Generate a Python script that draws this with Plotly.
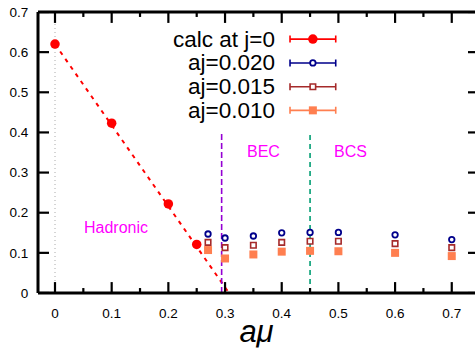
import plotly.graph_objects as go

# ---- data ----
calc_x = [0.0, 0.1, 0.2, 0.25]
calc_y = [0.620, 0.423, 0.222, 0.121]

# linear extrapolation of the j=0 calculation down to zero
fit_x = [0.0, 0.307]
fit_y = [0.620, 0.0]

amu = [0.27, 0.30, 0.35, 0.40, 0.45, 0.50, 0.60, 0.70]
aj020 = [0.147, 0.137, 0.142, 0.150, 0.151, 0.151, 0.145, 0.133]
aj015 = [0.126, 0.113, 0.119, 0.126, 0.129, 0.129, 0.123, 0.113]
aj010 = [0.107, 0.086, 0.096, 0.103, 0.105, 0.104, 0.100, 0.092]

# phase boundaries (x position, upper end of the marker line)
boundary_x = [0.294, 0.45]
boundary_top = 0.4

series_names = ["calc at j=0", "aj=0.020", "aj=0.015", "aj=0.010"]
region_labels = ["Hadronic", "BEC", "BCS"]
region_x = [0.108, 0.367, 0.522]
region_y = [0.164, 0.353, 0.353]

x_ticks = [0, 0.1, 0.2, 0.3, 0.4, 0.5, 0.6, 0.7]
x_minor_ticks = [0.05, 0.15, 0.25, 0.35, 0.45, 0.55, 0.65]
y_ticks = [0, 0.1, 0.2, 0.3, 0.4, 0.5, 0.6, 0.7]
x_range = [-0.03, 0.741]
y_range = [0, 0.7]

# ---- styles ----
FONT = "Liberation Sans, Arial, Helvetica, sans-serif"
RED = "#ff0000"
BLUE = "#00008b"
BROWN = "#a52a2a"
CORAL = "#ff7f50"
VIOLET = "#9400d3"
GREEN = "#009e73"
MAGENTA = "#ff00ff"

W, H = 475, 349
M_L, M_R, M_T, M_B = 38, 0, 12, 54
plot_w = W - M_L - M_R
plot_h = H - M_T - M_B

markers = [
    dict(symbol="circle", size=9.5, color=RED, line=dict(width=0)),
    dict(symbol="circle", size=5.5, color="white", line=dict(width=1.8, color=BLUE)),
    dict(symbol="square", size=5.5, color="white", line=dict(width=1.6, color=BROWN)),
    dict(symbol="square", size=8, color=CORAL, line=dict(width=0)),
]
colors = [RED, BLUE, BROWN, CORAL]

fig = go.Figure()

# dotted guide at a*mu = 0
fig.add_trace(go.Scatter(x=[0, 0], y=[0, 0.7], mode="lines",
                         line=dict(color="#aaaaaa", width=1, dash="1px,3px"),
                         hoverinfo="skip", showlegend=False))

# extrapolation line
fig.add_trace(go.Scatter(x=fit_x, y=fit_y, mode="lines",
                         line=dict(color=RED, width=2, dash="4px,5px"),
                         hoverinfo="skip", showlegend=False))

# BEC / BCS boundaries
for bx, col, dash in zip(boundary_x, [VIOLET, GREEN], ["6px,3px", "5px,4px"]):
    fig.add_trace(go.Scatter(x=[bx, bx], y=[0, boundary_top], mode="lines",
                             line=dict(color=col, width=1.6, dash=dash),
                             hoverinfo="skip", showlegend=False))

# data points
fig.add_trace(go.Scatter(x=calc_x, y=calc_y, mode="markers", marker=markers[0],
                         name=series_names[0], showlegend=False))
for ys, mk, nm in zip([aj020, aj015, aj010], markers[1:], series_names[1:]):
    fig.add_trace(go.Scatter(x=amu, y=ys, mode="markers", marker=mk,
                             name=nm, showlegend=False))

# inward tick marks on all four sides, lengths given in pixels
px_x = (x_range[1] - x_range[0]) / plot_w   # data units per pixel, x
px_y = (y_range[1] - y_range[0]) / plot_h   # data units per pixel, y
tx, ty = [], []
for vals, length in [(x_ticks, 11), (x_minor_ticks, 5)]:
    for v in vals:
        tx += [v, v, None, v, v, None]
        ty += [y_range[0], y_range[0] + length * px_y, None,
               y_range[1], y_range[1] - length * px_y, None]
for v in y_ticks:
    tx += [x_range[0], x_range[0] + 11 * px_x, None,
           x_range[1], x_range[1] - 7 * px_x, None]
    ty += [v, v, None, v, v, None]
fig.add_trace(go.Scatter(x=tx, y=ty, mode="lines", cliponaxis=False,
                         line=dict(color="black", width=2.2),
                         hoverinfo="skip", showlegend=False))

# key: text on the left, error-bar sample on the right (frame in [0,1] units)
key_x = 0.629
key_half = 0.0523
key_rows = [0.9035, 0.8187, 0.734, 0.650]
key_text_x = 0.547
for nm, mk, col, ky in zip(series_names, markers, colors, key_rows):
    fig.add_trace(go.Scatter(
        x=[key_x], y=[ky], xaxis="x3", yaxis="y3", mode="markers",
        marker=mk, showlegend=False, hoverinfo="skip",
        error_x=dict(type="data", array=[key_half], symmetric=True,
                     color=col, thickness=1.6, width=3.5)))
    fig.add_annotation(xref="paper", yref="paper", x=key_text_x, y=ky,
                       xanchor="right", yanchor="middle", text=nm,
                       showarrow=False, font=dict(family=FONT, size=22.5, color="black"))

for txt, tx_, ty_ in zip(region_labels, region_x, region_y):
    fig.add_annotation(x=tx_, y=ty_, text=txt, showarrow=False,
                       xanchor="center", yanchor="middle",
                       font=dict(family=FONT, size=16, color=MAGENTA))

# frame: left, bottom and top borders (right border lies just outside the view)
for x0, y0, x1, y1 in [(0, 0, 0, 1), (0, 0, 1, 0), (0, 1, 1, 1)]:
    fig.add_shape(type="line", xref="paper", yref="paper",
                  x0=x0, y0=y0, x1=x1, y1=y1, layer="above",
                  line=dict(color="black", width=3))

label_font = dict(family=FONT, size=13.5, color="black")
bare = dict(showgrid=False, zeroline=False, showline=False)

fig.update_layout(
    width=W, height=H,
    margin=dict(l=M_L, r=M_R, t=M_T, b=M_B),
    paper_bgcolor="white", plot_bgcolor="white",
    font=dict(family=FONT, color="black"),
    showlegend=False,
    # label axes (tick marks here are transparent spacers)
    xaxis=dict(range=x_range, tickmode="array", tickvals=x_ticks,
               ticktext=[f"{v:g}" for v in x_ticks], tickfont=label_font,
               ticks="outside", ticklen=8, tickcolor="rgba(0,0,0,0)",
               title=dict(text="<i>aμ</i>", standoff=6,
                          font=dict(family=FONT, size=31, color="black")),
               **bare),
    yaxis=dict(range=y_range, tickmode="array", tickvals=y_ticks,
               ticktext=[f"{v:g}" for v in y_ticks], tickfont=label_font,
               ticks="outside", ticklen=6, tickcolor="rgba(0,0,0,0)",
               **bare),
    # unit frame for the key
    xaxis3=dict(range=[0, 1], overlaying="x", visible=False, anchor="y3"),
    yaxis3=dict(range=[0, 1], overlaying="y", visible=False, anchor="x3"),
)

fig.write_html("out.html")
